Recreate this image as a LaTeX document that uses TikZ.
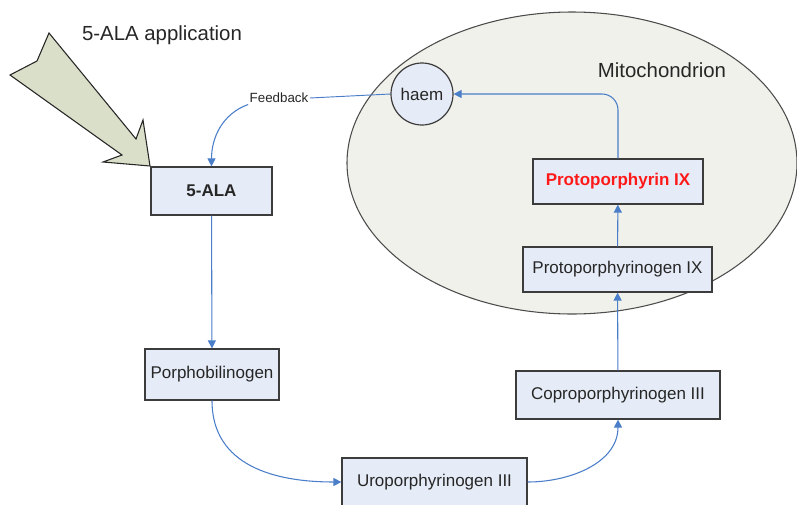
\documentclass[tikz,border=0pt]{standalone}
\usepackage{fontspec}
\setmainfont{Liberation Sans}
\usetikzlibrary{arrows.meta,positioning,shapes.geometric}
\definecolor{boxfill}{HTML}{E6ECF7}
\definecolor{boxline}{HTML}{3C3C3C}
\definecolor{arrowblue}{HTML}{4A7EC8}
\definecolor{mitofill}{HTML}{F1F1EB}
\definecolor{bigfill}{HTML}{D9DFC8}
\definecolor{protored}{HTML}{FF1A1A}

\begin{document}
\begin{tikzpicture}[x=0.75pt,y=-0.75pt]
\tikzstyle{stage}=[rectangle,draw=boxline,fill=boxfill,line width=0.9pt,inner sep=0pt,text=black!85,font=\fontsize{12.75}{15}\selectfont]
\tikzstyle{flowline}=[draw=arrowblue,line width=0.8pt,-{Triangle[length=6pt,width=6pt]}]
\useasboundingbox (0,0) rectangle (797,504);
\clip (0,0) rectangle (797,504);

% mitochondrion
\node [ellipse,draw=black!70,fill=mitofill,line width=0.8pt,minimum width=337.5pt,minimum height=226.5pt] (mito) at (572,163) {};
\node [text=black!85,font=\fontsize{15.3}{18}\selectfont] (mitolabel) at (662,70) {Mitochondrion};

% application arrow
\draw [draw=black!85,fill=bigfill,line width=0.8pt,line join=miter] (150,166) -- (143,120) -- (136,139) -- (49,33) -- (37,61) -- (10,75) -- (122,155) -- (103,162) -- cycle;
\node [text=black!85,font=\fontsize{15.3}{18}\selectfont] (applabel) at (162,35) {5-ALA application};

% pathway
\node [stage,minimum width=90.75pt,minimum height=36pt,font=\fontsize{12.75}{15}\selectfont\bfseries] (ala) at (211.5,191) {5-ALA};
\node [stage,minimum width=100.5pt,minimum height=38.25pt] (pbg) at (212,374.5) {Porphobilinogen};
\node [stage,minimum width=138.75pt,minimum height=36pt] (uro) at (434.5,482) {Uroporphyrinogen III};
\node [stage,minimum width=153pt,minimum height=36pt] (copro) at (618,395) {Coproporphyrinogen III};
\node [stage,minimum width=141.75pt,minimum height=33.75pt] (protogen) at (617.5,269.5) {Protoporphyrinogen IX};
\node [stage,minimum width=127.5pt,minimum height=33.75pt,text=protored,font=\fontsize{12.75}{15}\selectfont\bfseries] (proto) at (618,181.5) {Protoporphyrin IX};
\node [stage,circle,minimum size=46.5pt] (haem) at (422,94) {haem};
\node [inner sep=1pt,text=black!85,font=\fontsize{10}{12}\selectfont] (fb) at (279,98) {Feedback};

\path [flowline] (ala) -- (pbg);
\path [flowline] (pbg.south) to[out=-90,in=180,looseness=1.1] (uro.west);
\path [flowline] (uro.east) to[out=0,in=-90] (copro.south);
\path [flowline] (copro) -- (protogen);
\path [flowline] (protogen) -- (proto);
\path [flowline,rounded corners=12pt] (proto.north) |- (haem.east);
\path [draw=arrowblue,line width=0.7pt] (haem.west) -- (fb.east);
\path [flowline] (fb.south west) to[out=200,in=90] (ala.north);
\end{tikzpicture}
\end{document}
